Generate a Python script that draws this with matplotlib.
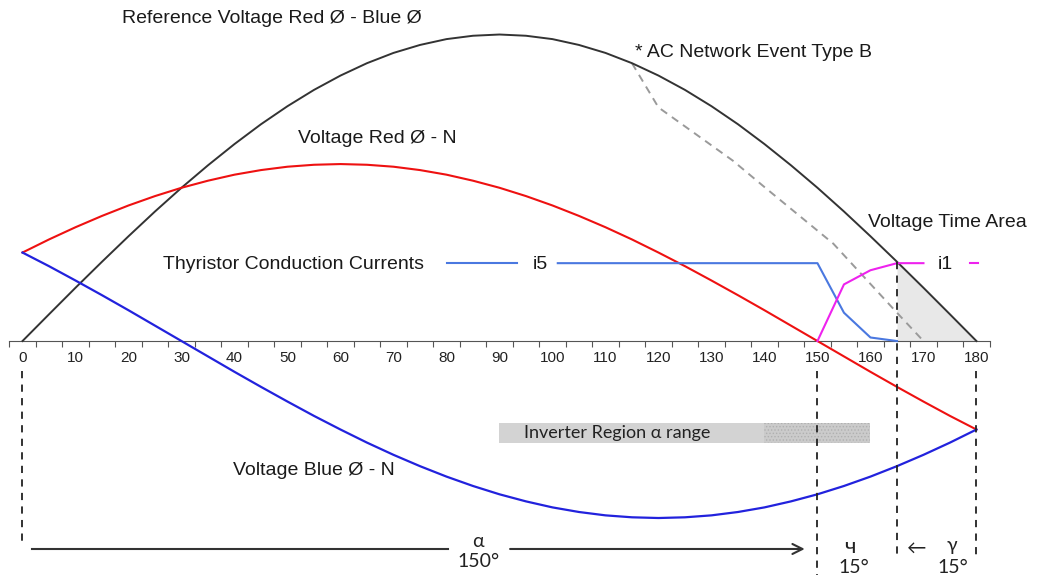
# -*- coding: utf-8 -*-
"""Thyristor commutation diagram: phase voltages, reference voltage,
conduction currents and the alpha / overlap / extinction angles."""
import matplotlib
matplotlib.use('Agg')
import matplotlib.pyplot as plt

# angle in degrees, voltages in per unit of the phase peak
angles = list(range(0, 181, 5))
v_red = [0.50, 0.574, 0.643, 0.707, 0.766, 0.819, 0.866, 0.906, 0.940, 0.966,
         0.985, 0.996, 1.00, 0.996, 0.985, 0.966, 0.940, 0.906, 0.866, 0.819,
         0.766, 0.707, 0.643, 0.574, 0.50, 0.423, 0.342, 0.259, 0.174, 0.087,
         0.0, -0.087, -0.174, -0.259, -0.342, -0.423, -0.50]
v_blue = [0.50, 0.423, 0.342, 0.259, 0.174, 0.087, 0.0, -0.087, -0.174, -0.259,
          -0.342, -0.423, -0.50, -0.574, -0.643, -0.707, -0.766, -0.819, -0.866,
          -0.906, -0.940, -0.966, -0.985, -0.996, -1.00, -0.996, -0.985, -0.966,
          -0.940, -0.906, -0.866, -0.819, -0.766, -0.707, -0.643, -0.574, -0.50]
v_ref = [0.0, 0.151, 0.301, 0.448, 0.592, 0.732, 0.866, 0.993, 1.113, 1.225,
         1.327, 1.419, 1.500, 1.570, 1.628, 1.673, 1.706, 1.725, 1.732, 1.725,
         1.706, 1.673, 1.628, 1.570, 1.500, 1.419, 1.327, 1.225, 1.113, 0.993,
         0.866, 0.732, 0.592, 0.448, 0.301, 0.151, 0.0]

# reference voltage during the AC network event
event_angles = [115, 120, 134, 140, 153, 165, 170]
event_v = [1.57, 1.32, 1.02, 0.87, 0.55, 0.16, 0.0]

# thyristor currents
i5_angles = [101, 150, 155, 160, 165]
i5_vals = [0.44, 0.44, 0.16, 0.02, 0.0]
i1_angles = [150, 155, 160, 165, 170]
i1_vals = [0.0, 0.32, 0.40, 0.44, 0.44]

tick_labels = list(range(0, 181, 10))
alpha_deg, mu_deg, gamma_deg = 150, 15, 15
inverter_range = (90, 160)
hatched_range = (140, 160)

ARIAL = 'Liberation Sans'
CALIBRI = ['Lato', 'Open Sans', 'DejaVu Sans']
plt.rcParams['font.family'] = [ARIAL, 'DejaVu Sans']


def main():
    fig = plt.figure(figsize=(10.48, 5.75), dpi=100)
    ax = fig.add_axes([0, 0, 1, 1])
    ax.set_xlim(-4.245, 193.5)
    ax.set_ylim(-1.322, 1.927)

    # x axis drawn at v = 0, ticks between categories like a category axis
    for s in ('top', 'right', 'left'):
        ax.spines[s].set_visible(False)
    ax.spines['bottom'].set_position(('data', 0))
    ax.spines['bottom'].set_bounds(-2.5, 182.5)
    ax.spines['bottom'].set_color('#555555')
    ax.set_yticks([])
    ax.set_xticks([a - 2.5 for a in angles] + [182.5])
    ax.set_xticklabels([])
    ax.tick_params(axis='x', which='major', length=4, color='#555555')
    ax.set_xticks(tick_labels, minor=True)
    ax.set_xticklabels([str(t) for t in tick_labels], minor=True)
    ax.tick_params(axis='x', which='minor', length=0, pad=7, labelsize=11,
                   labelcolor='#222222')

    # voltage time area
    shade = [(a, v) for a, v in zip(angles, v_ref) if a >= alpha_deg + mu_deg]
    ax.fill_between([a for a, _ in shade], [v for _, v in shade], 0,
                    color='#e8e8e8', lw=0, zorder=1)

    ax.plot(angles, v_ref, color='#333333', lw=1.4, zorder=3)
    ax.plot(event_angles, event_v, color='#9a9a9a', lw=1.4, ls=(0, (4, 3)), zorder=2)
    ax.plot(angles, v_red, color='#ee1111', lw=1.5, zorder=3)
    ax.plot(angles, v_blue, color='#2222dd', lw=1.6, zorder=3)
    ax.plot(i5_angles, i5_vals, color='#4a78e0', lw=1.5, zorder=4)
    ax.plot(i1_angles, i1_vals, color='#ee22ee', lw=1.5, zorder=4)
    ax.plot([80.1, 93.3], [0.44, 0.44], color='#4a78e0', lw=1.5)
    ax.plot([178.8, 180.3], [0.44, 0.44], color='#ee22ee', lw=1.5)

    # inverter region bar
    ax.barh(-0.52, inverter_range[1] - inverter_range[0], left=inverter_range[0],
            height=0.113, color='#d3d3d3', zorder=1)
    plt.rcParams['hatch.linewidth'] = 0.6
    ax.barh(-0.52, hatched_range[1] - hatched_range[0], left=hatched_range[0],
            height=0.113, facecolor='#cbcbcb', edgecolor='#b0b0b0', hatch='.....',
            lw=0, zorder=1)

    # angle boundaries
    dash = dict(color='#222222', lw=1.3, ls=(0, (4, 3.5)), zorder=5)
    ax.plot([0, 0], [-0.17, -1.153], **dash)
    ax.plot([alpha_deg, alpha_deg], [-0.17, -1.33], **dash)
    ax.plot([alpha_deg + mu_deg] * 2, [0.448, -1.21], **dash)
    ax.plot([180, 180], [-0.17, -1.21], **dash)

    # alpha arrow
    y_arr = -1.175
    ax.plot([1.8, 80.3], [y_arr, y_arr], color='#333333', lw=1.5)
    ax.annotate('', xy=(147.6, y_arr), xytext=(92, y_arr),
                arrowprops=dict(arrowstyle='->', color='#333333', lw=1.5,
                                mutation_scale=18, shrinkA=0, shrinkB=0))

    cal = dict(family=CALIBRI, fontsize=14, color='#222222', ha='center', va='center')
    ax.text(86.0, -1.13, 'α', **cal)
    ax.text(86.0, -1.245, f'{alpha_deg}°', **cal)
    ax.text(156.1, -1.165, 'ч', family=CALIBRI, fontsize=16, color='#222222',
            ha='center', va='center')
    ax.text(156.8, -1.28, f'{mu_deg}°', **cal)
    ax.text(168.8, -1.17, '←', **cal)
    ax.text(175.4, -1.155, 'γ', **cal)
    ax.text(175.6, -1.28, f'{gamma_deg}°', **cal)
    ax.text(94.6, -0.52, 'Inverter Region α range', family=CALIBRI, fontsize=13,
            color='#222222', va='center', ha='left', zorder=3)

    lab = dict(fontsize=14, color='#1a1a1a', va='center', ha='left')
    ax.text(18.8, 1.825, 'Reference Voltage Red Ø - Blue Ø', **lab)
    ax.text(115.6, 1.633, '* AC Network Event Type B', **lab)
    ax.text(52.0, 1.147, 'Voltage Red Ø - N', **lab)
    ax.text(159.5, 0.672, 'Voltage Time Area', **lab)
    ax.text(26.5, 0.43, 'Thyristor Conduction Currents', **lab)
    ax.text(96.3, 0.43, 'i5', **lab)
    ax.text(172.7, 0.43, 'i1', **lab)
    ax.text(39.7, -0.729, 'Voltage Blue Ø - N', **lab)

    fig.savefig('out.png', dpi=100, facecolor='white')


if __name__ == '__main__':
    main()
